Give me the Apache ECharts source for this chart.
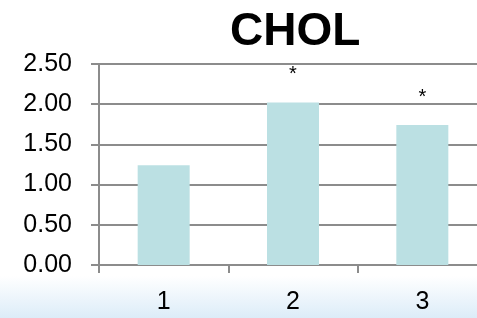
<!DOCTYPE html>
<html>
<head>
<meta charset="utf-8">
<script src="https://cdn.jsdelivr.net/npm/echarts@6/dist/echarts.min.js"></script>
<style>
  html, body { margin: 0; padding: 0; background: #fff; }
  #main { width: 477px; height: 318px; }
</style>
</head>
<body>
<div id="main"></div>
<script>
  // 数据
  var categories = ['1', '2', '3'];
  var values = [1.24, 2.02, 1.74];
  var stars = ['', '*', '*'];
  var yTicks = [0, 0.5, 1, 1.5, 2, 2.5];

  var gray = '#8c8c8c';
  var font = '"Liberation Sans", Arial, sans-serif';

  var chart = echarts.init(document.getElementById('main'));
  chart.setOption({
    animation: false,
    backgroundColor: '#fff',
    title: {
      text: 'CHOL',
      left: 225,
      top: 4,
      textStyle: { fontFamily: font, fontSize: 46, fontWeight: 'bold', color: '#000' }
    },
    // 底部淡蓝色渐变
    graphic: [{
      type: 'rect',
      z: -10,
      shape: { x: 0, y: 276, width: 477, height: 42 },
      style: {
        fill: new echarts.graphic.LinearGradient(0, 0, 0, 1, [
          { offset: 0, color: '#ffffff' },
          { offset: 1, color: '#dcecf8' }
        ])
      }
    }],
    grid: { left: 99, top: 64, bottom: 53, width: 388, outerBoundsMode: 'none', containLabel: false },
    xAxis: {
      type: 'category',
      data: categories,
      axisLine: { lineStyle: { color: gray, width: 2 } },
      axisTick: { show: true, length: 8, lineStyle: { color: gray, width: 2 } },
      axisLabel: { margin: 25, fontSize: 25, color: '#000', fontFamily: font }
    },
    yAxis: {
      type: 'value',
      min: yTicks[0],
      max: yTicks[yTicks.length - 1],
      interval: 0.5,
      axisLine: { show: true, lineStyle: { color: gray, width: 2 } },
      axisTick: { show: true, length: 8, lineStyle: { color: gray, width: 2 } },
      splitLine: { lineStyle: { color: gray, width: 2 } },
      axisLabel: {
        margin: 27, fontSize: 25, color: '#000', fontFamily: font,
        formatter: function (v) { return v.toFixed(2); }
      }
    },
    series: [{
      type: 'bar',
      barWidth: 52,
      itemStyle: { color: '#bbe0e3' },
      data: values,
      label: {
        show: true,
        position: 'top',
        distance: 18,
        fontSize: 20,
        color: '#000',
        fontFamily: font,
        formatter: function (p) { return stars[p.dataIndex]; }
      }
    }]
  });
</script>
</body>
</html>
